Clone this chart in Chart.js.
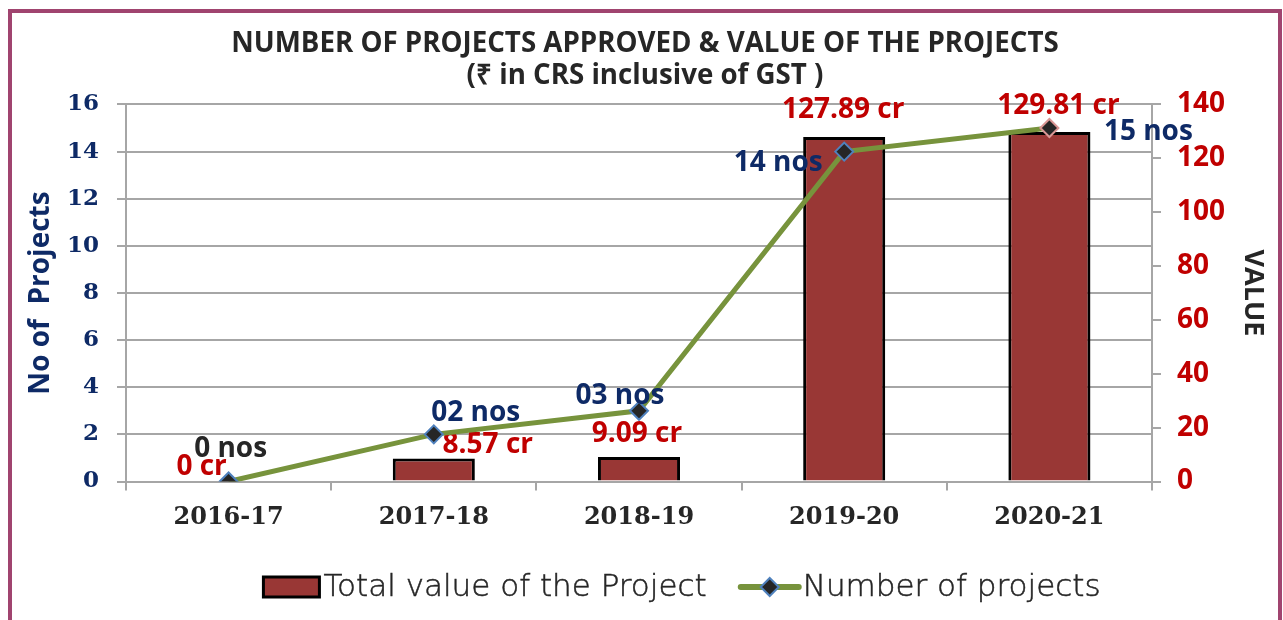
<!DOCTYPE html>
<html>
<head>
<meta charset="utf-8">
<script src="https://cdn.jsdelivr.net/npm/chart.js@4/dist/chart.umd.min.js"></script>
<style>
  html, body { margin: 0; padding: 0; background: #ffffff; overflow: hidden; }
  #frame { position: absolute; left: 8px; top: 9px; width: 1266px; height: 620px; border: 4px solid #A0446F; background: #fff; }
  #c { display: block; }
</style>
</head>
<body>
<div id="frame"><canvas id="c" width="1266" height="607"></canvas></div>
<script>
// ---- data ----
const categories = ['2016-17', '2017-18', '2018-19', '2019-20', '2020-21'];
const projectValues = [0, 8.57, 9.09, 127.89, 129.81];      // ₹ crores (right axis)
const projectCounts = [0, 2, 3, 14, 15];                    // number of projects (left axis)
const valueLabels = ['0 cr', '8.57 cr', '9.09 cr', '127.89 cr', '129.81 cr'];
const countLabels = ['0 nos', '02 nos', '03 nos', '14 nos', '15 nos'];
const countAxis = { min: 0, max: 16, step: 2 };
const valueAxis = { min: 0, max: 140, step: 20 };
const titleLines = ['NUMBER OF PROJECTS APPROVED & VALUE OF THE PROJECTS', '(₹ in CRS inclusive of GST )'];
const seriesNames = ['Total value of the Project', 'Number of projects'];

// ---- styles / label placement ----
const RED = '#C00000', NAVY = '#0E2A66', DARK = '#262626', GRID = '#A6A6A6';
const BAR_FILL = '#993735', LINE_GREEN = '#77933C';
const barLabelOffsets = [[-27, -14], [54, -13], [-2, -23], [-1, -27], [9, -26]];
const lineLabelOffsets = [[2, -32], [42, -21], [-19, -15], [-66, 11], [99, 4]];
const lineLabelColors = [DARK, NAVY, NAVY, NAVY, NAVY];
const LABEL_FONT = 'bold 28px "Open Sans", sans-serif';

const labelsPlugin = {
  id: 'valueLabels',
  afterDatasetDraw(chart, args) {
    if (args.index !== 0) return;
    const ctx = chart.ctx;
    ctx.save();
    ctx.font = LABEL_FONT;
    ctx.textAlign = 'center';
    ctx.textBaseline = 'middle';
    ctx.fillStyle = RED;
    args.meta.data.forEach((el, i) => {
      ctx.fillText(valueLabels[i], el.x + barLabelOffsets[i][0], el.y + barLabelOffsets[i][1]);
    });
    ctx.restore();
  },
  afterDatasetsDraw(chart) {
    const ctx = chart.ctx;
    const meta = chart.getDatasetMeta(1);
    ctx.save();
    ctx.font = LABEL_FONT;
    ctx.textAlign = 'center';
    ctx.textBaseline = 'middle';
    meta.data.forEach((el, i) => {
      ctx.fillStyle = lineLabelColors[i];
      ctx.fillText(countLabels[i], el.x + lineLabelOffsets[i][0], el.y + lineLabelOffsets[i][1]);
    });
    ctx.restore();
  }
};

const legendPlugin = {
  id: 'customLegend',
  afterDraw(chart) {
    const ctx = chart.ctx;
    ctx.save();
    ctx.font = '300 31px "DejaVu Sans", sans-serif';
    ctx.textBaseline = 'middle';
    const boxW = 56, boxH = 20, lineW = 58, gapText = 4, gapItems = 34;
    const w1 = ctx.measureText(seriesNames[0]).width;
    const w2 = ctx.measureText(seriesNames[1]).width;
    const total = boxW + gapText + w1 + gapItems + lineW + gapText + w2;
    const cx = (chart.chartArea.left + chart.chartArea.right) / 2 + 43;
    const y = 574;
    let x = cx - total / 2;
    ctx.fillStyle = BAR_FILL;
    ctx.fillRect(x, y - boxH / 2, boxW, boxH);
    ctx.lineWidth = 3;
    ctx.strokeStyle = '#000';
    ctx.strokeRect(x, y - boxH / 2, boxW, boxH);
    x += boxW + gapText;
    ctx.fillStyle = DARK;
    ctx.strokeStyle = DARK;
    ctx.lineWidth = 0.5;
    ctx.fillText(seriesNames[0], x, y + 1);
    ctx.strokeText(seriesNames[0], x, y + 1);
    x += w1 + gapItems;
    ctx.strokeStyle = LINE_GREEN;
    ctx.lineWidth = 6;
    ctx.lineCap = 'round';
    ctx.beginPath(); ctx.moveTo(x, y); ctx.lineTo(x + lineW, y); ctx.stroke();
    const mx = x + lineW / 2, r = 9;
    ctx.beginPath();
    ctx.moveTo(mx, y - r); ctx.lineTo(mx + r, y); ctx.lineTo(mx, y + r); ctx.lineTo(mx - r, y); ctx.closePath();
    ctx.fillStyle = DARK; ctx.fill();
    ctx.lineWidth = 2; ctx.strokeStyle = '#4F81BD'; ctx.stroke();
    x += lineW + gapText;
    ctx.fillStyle = DARK;
    ctx.strokeStyle = DARK;
    ctx.lineWidth = 0.5;
    ctx.fillText(seriesNames[1], x, y + 1);
    ctx.strokeText(seriesNames[1], x, y + 1);
    ctx.restore();
  }
};

new Chart(document.getElementById('c'), {
  data: {
    labels: categories,
    datasets: [
      {
        type: 'bar',
        label: seriesNames[0],
        data: projectValues,
        yAxisID: 'y1',
        backgroundColor: BAR_FILL,
        borderColor: '#000000',
        borderWidth: 3,
        barPercentage: 0.4,
        categoryPercentage: 1,
        order: 2
      },
      {
        type: 'line',
        label: seriesNames[1],
        data: projectCounts,
        yAxisID: 'y',
        borderColor: LINE_GREEN,
        borderWidth: 5,
        tension: 0,
        pointStyle: 'rectRot',
        pointRadius: 9,
        pointBackgroundColor: DARK,
        pointBorderColor: ['#4F81BD', '#4F81BD', '#4F81BD', '#4F81BD', '#D99694'],
        pointBorderWidth: 2,
        order: 1
      }
    ]
  },
  options: {
    responsive: false,
    animation: false,
    events: [],
    layout: { padding: 0 },
    plugins: {
      legend: { display: false },
      tooltip: { enabled: false },
      title: {
        display: true,
        text: titleLines,
        color: DARK,
        font: { family: '"Open Sans", sans-serif', weight: 'bold', size: 27.7, lineHeight: 1.16 },
        padding: { top: 15, bottom: 12.2 }
      }
    },
    scales: {
      x: {
        type: 'category',
        offset: true,
        grid: { display: true, drawOnChartArea: false, drawTicks: true, tickLength: 9, color: GRID, lineWidth: 2, offset: true },
        border: { display: true, color: GRID, width: 2 },
        ticks: { color: DARK, font: { family: '"DejaVu Serif", serif', weight: 'bold', size: 24 }, padding: 13, maxRotation: 0 },
        afterFit: s => { s.height = 138.5; }
      },
      y: {
        position: 'left',
        min: countAxis.min,
        max: countAxis.max,
        grid: { color: GRID, lineWidth: 2, tickLength: 9 },
        border: { color: GRID, width: 2 },
        ticks: { stepSize: countAxis.step, color: NAVY, font: { family: '"DejaVu Serif", serif', weight: 'bold', size: 23 }, padding: 18 },
        title: { display: true, text: 'No of  Projects', color: NAVY, font: { family: '"Open Sans", sans-serif', weight: 'bold', size: 28, lineHeight: 1.2 }, padding: { top: 12, bottom: 0 } },
        afterFit: s => { s.width = 114; }
      },
      y1: {
        position: 'right',
        min: valueAxis.min,
        max: valueAxis.max,
        grid: { drawOnChartArea: false, color: GRID, lineWidth: 2, tickLength: 9 },
        border: { color: GRID, width: 2 },
        ticks: { stepSize: valueAxis.step, color: RED, font: { family: '"Open Sans", sans-serif', weight: 'bold', size: 28 }, padding: 16 },
        title: { display: true, text: 'VALUE', color: DARK, font: { family: '"Open Sans", sans-serif', weight: 'bold', size: 27, lineHeight: 1.2 }, padding: { top: 9, bottom: 0 } },
        afterFit: s => { s.width = 126; }
      }
    }
  },
  plugins: [labelsPlugin, legendPlugin]
});
</script>
</body>
</html>
